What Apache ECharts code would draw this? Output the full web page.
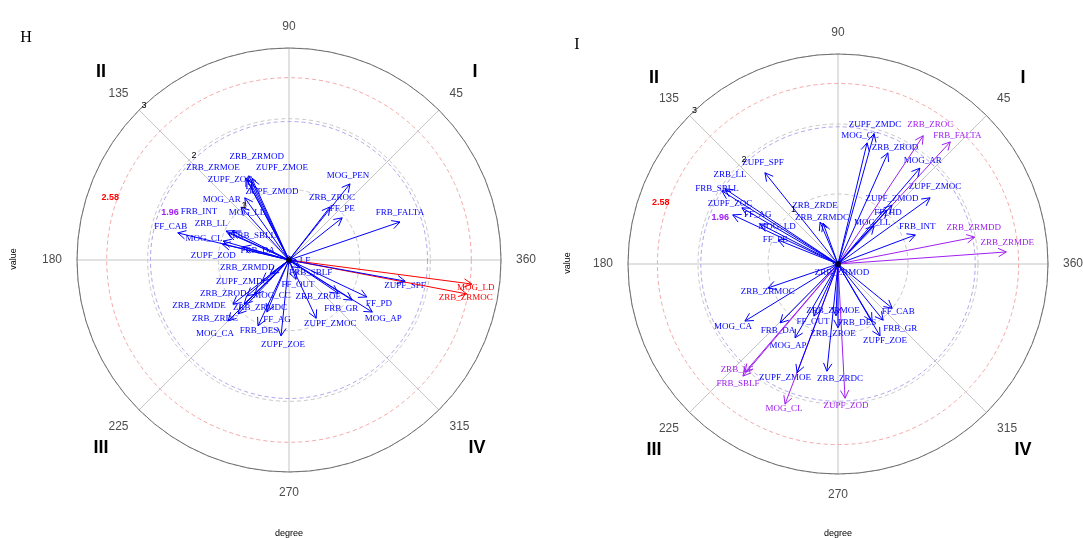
<!DOCTYPE html>
<html><head><meta charset="utf-8">
<script src="https://cdn.jsdelivr.net/npm/echarts@6/dist/echarts.min.js"></script>
<style>html,body{margin:0;padding:0;background:#fff;}#c{width:1083px;height:538px;}</style>
</head><body><div id="c"></div>
<script>
// ---------- Panel H (left) ----------
const hNames = ['MOG_LD','ZRB_ZRMOC','ZUPF_SPF','FRB_FALTA','MOG_PEN','ZRB_ZROC','FF_PE','LF','FRB_SBLF','FF_OUT','ZRB_ZROE','FRB_GR','FF_PD','MOG_AP','ZUPF_ZMOC','ZUPF_ZOE','FRB_DES','FF_AG','ZRB_ZRMDC','MOG_CA','ZRB_ZRDC','ZRB_ZRMDE','ZRB_ZROD','MOG_CC','ZUPF_ZMDC','ZRB_ZRMDD','ZRB_ZRMOD','ZRB_ZRMOE','ZUPF_ZMOE','ZUPF_ZOC','ZUPF_ZMOD','MOG_AR','MOG_LL','FRB_INT','ZRB_LL','FRB_SBLL','FF_CAB','MOG_CL','ZUPF_ZOD','FRB_DA'];
const hAngles = [352.5,349.2,349.7,18.9,51.3,52.3,38.4,0,324,290,326,327.6,334.6,328,295,264,244.8,247,224.4,225,226.6,218.2,220.6,225,217.9,216.4,115.5,117.7,114.5,117.7,116.6,125.4,132.2,155.3,156,153,166.3,164,166.6,164.2];
const hValues = [2.61,2.56,1.67,1.66,1.38,0.95,0.96,0.10,0.19,0.29,0.84,1.06,1.22,1.39,0.91,1.08,1.03,0.80,0.89,1.22,1.05,1.01,0.78,0.68,0.48,0.33,1.32,1.31,1.26,1.28,1.20,1.08,1.01,0.98,0.94,0.90,1.62,0.97,0.97,0.68];
const hGroups = ['r','r','b','b','b','b','b','b','b','b','b','b','b','b','b','b','b','b','b','b','b','b','b','b','b','b','b','b','b','b','b','b','b','b','b','b','b','b','b','b'];
// label nudges (layout, px)
const hLabelDx = [4,-1,0,0,-2,2,0,9,11,2,-20,-11,12,11,14,2,1,10,16,-13,-23,-34,-24,17,-20,-23,8,-33,30,-17,21,-23,6,-27,-17,22,-7,-19,-9,15];
const hLabelDy = [4,4,5,-9,-8,-9,-9,1,5,5,3,9,7,7,5,9,5,8,4,13,5,2,-2,2,1,-6,-19,-10,-11,0,7,2,6,-19,-9,5,-6,-2,12,4];

// ---------- Panel I (right) ----------
const iNames = ['ZRB_ZROC','FRB_FALTA','ZRB_ZRMDD','ZRB_ZRMDE','ZRB_LF','FRB_SBLF','MOG_CL','ZUPF_ZOD','ZUPF_ZMDC','MOG_CC','ZRB_ZROD','MOG_AR','ZUPF_ZMOC','ZUPF_ZMOD','FF_HD','MOG_LL','FRB_INT','ZRB_ZRMDC','ZRB_ZRDE','ZUPF_SPF','ZRB_LL','FRB_SBLL','ZUPF_ZOC','FF_AG','MOG_LD','FF_PE','ZRB_ZRMOD','ZRB_ZRMOC','MOG_CA','FRB_DA','MOG_AP','FF_OUT','ZUPF_ZMOE','ZRB_ZRDC','ZRB_ZRMOE','ZRB_ZROE','FRB_DES','FF_CAB','FRB_GR','ZUPF_ZOE'];
const iAngles = [56.4,47.4,11.1,4.1,229.3,229.7,249.3,273,74.5,76.5,65.8,49.5,35.7,47.5,47.8,46.5,20.6,110.1,113.2,128.7,146.4,147.8,149.7,155,152.9,158.2,300,198.9,211.5,225.5,239.8,245.2,249.4,264.1,267.8,270,300.8,320.8,308.8,300.3];
const iValues = [2.20,2.37,1.99,2.41,2.04,2.10,2.14,1.92,1.93,1.78,1.74,1.80,1.62,1.14,1.04,0.75,1.18,0.62,0.65,1.67,1.94,1.96,1.59,1.66,1.25,0.92,0.06,1.06,1.56,1.18,1.22,0.82,1.66,1.54,0.74,0.91,0.95,1.00,1.03,1.19];
const iGroups = ['p','p','p','p','p','p','p','p','b','b','b','b','b','b','b','b','b','b','b','b','b','b','b','b','b','b','b','b','b','b','b','b','b','b','b','b','b','b','b','b'];
const iLabelDx = [7,7,-1,1,-8,-5,-1,1,1,-7,7,3,5,0,1,-2,2,-1,-5,-2,5,-5,-12,25,17,-3,2,0,-12,-2,-7,-1,-12,13,-3,-5,-15,6,17,5];
const iLabelDy = [-11,-6,-10,-9,-3,8,5,7,-9,-7,-5,-8,-11,-7,3,-3,-8,-6,-17,-10,-14,-2,-4,0,3,0,5,4,6,8,8,6,5,7,-5,6,2,3,8,5];

// ---------- shared axis annotations ----------
const radiusTicks = [1, 2, 3];
const angleTicks = [0, 45, 90, 135, 180, 225, 270, 315];
const critValues = [1.96, 2.58];
const critLabels = ['1.96', '2.58'];
const critLabelPos = [[1.81, 158.4], [2.68, 160.8]];

const COLORS = { b: '#0000ff', r: '#ff0000', p: '#a020f0' };
const CRIT_LINE = ['#b3a3ee', '#f5a8a8'];
const CRIT_TEXT = ['#a020f0', '#ff0000'];

function arrowSeries(pi, angles, values, groups) {
  return {
    type: 'custom', coordinateSystem: 'polar', polarIndex: pi, silent: true, z: 5,
    data: values.map((v, i) => [v, angles[i], i]),
    renderItem: function (params, api) {
      const i = api.value(2);
      const o = api.coord([0, 0]);
      const t = api.coord([api.value(0), api.value(1)]);
      const dx = t[0] - o[0], dy = t[1] - o[1];
      const len = Math.hypot(dx, dy) || 1;
      const ux = dx / len, uy = dy / len;
      const L = 9, a = 28 * Math.PI / 180;
      const rot = g => [ux * Math.cos(g) - uy * Math.sin(g), ux * Math.sin(g) + uy * Math.cos(g)];
      const r1 = rot(a), r2 = rot(-a);
      const p1 = [t[0] - L * r1[0], t[1] - L * r1[1]];
      const p2 = [t[0] - L * r2[0], t[1] - L * r2[1]];
      const c = COLORS[groups[i]];
      return { type: 'group', children: [
        { type: 'line', shape: { x1: o[0], y1: o[1], x2: t[0], y2: t[1] }, style: { stroke: c, lineWidth: 1 } },
        { type: 'polyline', shape: { points: [p1, t, p2] }, style: { stroke: c, fill: null, lineWidth: 1 } }
      ] };
    }
  };
}
function labelSeries(pi, names, angles, values, groups, ldx, ldy) {
  return {
    type: 'custom', coordinateSystem: 'polar', polarIndex: pi, silent: true, z: 4,
    data: values.map((v, i) => [v, angles[i], i]),
    renderItem: function (params, api) {
      const i = api.value(2);
      const t = api.coord([api.value(0), api.value(1)]);
      return { type: 'text', x: t[0] + ldx[i], y: t[1] + ldy[i],
        style: { text: names[i], fill: COLORS[groups[i]], font: '9px "Liberation Serif", serif', align: 'center', verticalAlign: 'middle' } };
    }
  };
}
function circleSeries(pi) {
  return {
    type: 'custom', coordinateSystem: 'polar', polarIndex: pi, silent: true, z: 2,
    data: critValues.map((v, i) => [v, 0, i]),
    renderItem: function (params, api) {
      const i = api.value(2);
      const o = api.coord([0, 0]);
      const p = api.coord([api.value(0), 0]);
      return { type: 'circle', shape: { cx: o[0], cy: o[1], r: Math.hypot(p[0] - o[0], p[1] - o[1]) },
        style: { stroke: CRIT_LINE[i], fill: null, lineWidth: 1, lineDash: [4, 3] } };
    }
  };
}
function critTextSeries(pi) {
  return {
    type: 'custom', coordinateSystem: 'polar', polarIndex: pi, silent: true, z: 6,
    data: critLabelPos.map((p, i) => [p[0], p[1], i]),
    renderItem: function (params, api) {
      const i = api.value(2);
      const t = api.coord([api.value(0), api.value(1)]);
      return { type: 'text', x: t[0], y: t[1],
        style: { text: critLabels[i], fill: CRIT_TEXT[i], font: 'bold 9px "Liberation Sans", sans-serif', align: 'center', verticalAlign: 'middle' } };
    }
  };
}
function radiusTickSeries(pi) {
  return {
    type: 'custom', coordinateSystem: 'polar', polarIndex: pi, silent: true, z: 6,
    data: radiusTicks.map(v => [v, 135]),
    renderItem: function (params, api) {
      const t = api.coord([api.value(0), api.value(1)]);
      return { type: 'text', x: t[0] + 5, y: t[1] - 5,
        style: { text: String(api.value(0)), fill: '#000', font: '9px "Liberation Sans", sans-serif', align: 'center', verticalAlign: 'middle' } };
    }
  };
}
function centerDot(pi) {
  return { type: 'scatter', coordinateSystem: 'polar', polarIndex: pi, silent: true, z: 7,
    symbolSize: 6, itemStyle: { color: '#000' }, data: [[0, 0]] };
}
function angleAxis(pi) {
  return {
    polarIndex: pi, type: 'value', min: 0, max: 360, interval: 45, startAngle: 0, clockwise: false,
    axisLine: { show: true, lineStyle: { color: '#6e6e6e', width: 1 } },
    axisTick: { show: false },
    axisLabel: { show: true, margin: 15, color: '#4d4d4d', fontSize: 12, fontFamily: 'Liberation Sans, sans-serif',
      formatter: v => (v === 0 ? '360' : String(v)) },
    splitLine: { show: true, lineStyle: { color: '#c4c4c4', width: 1 } }
  };
}
function radiusAxis(pi) {
  return {
    polarIndex: pi, type: 'value', min: 0, max: 3, interval: 1,
    axisLine: { show: false }, axisTick: { show: false }, axisLabel: { show: false },
    splitLine: { show: true, lineStyle: { color: '#c8c8c8', type: [4, 3], width: 1 } }
  };
}

const T = (text, x, y, font, extra) => Object.assign({ type: 'text', x: x, y: y,
  style: { text: text, font: font, fill: '#000', align: 'center', verticalAlign: 'middle' } }, extra || {});
const QF = 'bold 18px "Liberation Sans", sans-serif';
const SF = '9px "Liberation Sans", sans-serif';

const chart = echarts.init(document.getElementById('c'), null, { renderer: 'canvas' });
chart.setOption({
  animation: false,
  backgroundColor: '#fff',
  polar: [ { center: [289, 260], radius: 212 }, { center: [838, 264], radius: 210 } ],
  angleAxis: [angleAxis(0), angleAxis(1)],
  radiusAxis: [radiusAxis(0), radiusAxis(1)],
  series: [
    circleSeries(0), circleSeries(1),
    labelSeries(0, hNames, hAngles, hValues, hGroups, hLabelDx, hLabelDy),
    labelSeries(1, iNames, iAngles, iValues, iGroups, iLabelDx, iLabelDy),
    arrowSeries(0, hAngles, hValues, hGroups),
    arrowSeries(1, iAngles, iValues, iGroups),
    critTextSeries(0), critTextSeries(1),
    radiusTickSeries(0), radiusTickSeries(1),
    centerDot(0), centerDot(1)
  ],
  graphic: [
    T('H', 26, 38, '16px "Liberation Serif", serif'),
    T('I', 577, 45, '16px "Liberation Serif", serif'),
    T('II', 101, 72, QF), T('I', 475, 72, QF), T('III', 101, 448, QF), T('IV', 477, 448, QF),
    T('II', 654, 78, QF), T('I', 1023, 78, QF), T('III', 654, 450, QF), T('IV', 1023, 450, QF),
    T('value', 14, 259, SF, { rotation: Math.PI / 2 }),
    T('value', 568, 263, SF, { rotation: Math.PI / 2 }),
    T('degree', 289, 534, SF),
    T('degree', 838, 534, SF)
  ]
});
</script>
</body></html>
